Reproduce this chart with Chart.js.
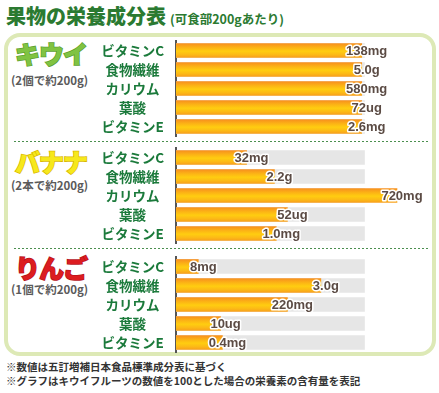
<!DOCTYPE html>
<html>
<head>
<meta charset="utf-8">
<script src="https://cdn.jsdelivr.net/npm/chart.js@4"></script>
<style>
body { margin:0; width:439px; height:393px; background:#fff; position:relative; overflow:hidden;
       font-family:"Noto Sans CJK JP", sans-serif; }
.abs { position:absolute; white-space:nowrap; }
#title { left:6px; top:4px; font-size:20px; line-height:24px; font-weight:900; color:#2b7a31; }
#title span { font-size:12.5px; font-weight:700; margin-left:4px; }
#box { left:4px; top:33px; width:424px; height:315px; border:4px solid #dde9b6; border-radius:16px; }
.sep { left:14px; width:414px; height:1px;
       background:repeating-linear-gradient(90deg,#4b8f4f 0 2px,transparent 2px 4px); }
.fruit { font-size:25px; line-height:26px; font-weight:900; letter-spacing:-1px; paint-order:stroke fill; }
.sub { font-size:11.5px; line-height:14px; font-weight:700; color:#5a5a5a; }
.note { left:6px; font-size:10.5px; line-height:14px; font-weight:700; color:#333; }
canvas { position:absolute; left:0; }
</style>
</head>
<body>
<div id="title" class="abs">果物の栄養成分表<span>(可食部200gあたり)</span></div>
<div id="box" class="abs"></div>
<div class="abs sep" style="top:141px"></div>
<div class="abs sep" style="top:248px"></div>

<div class="abs fruit" style="left:15px;top:40px;color:#80c342;-webkit-text-stroke:1.5px #5c9f30">キウイ</div>
<div class="abs sub" style="left:11px;top:73px">(2個で約200g)</div>
<div class="abs fruit" style="left:15px;top:148px;color:#f6e81c;-webkit-text-stroke:1.5px #d9b800">バナナ</div>
<div class="abs sub" style="left:11px;top:178px">(2本で約200g)</div>
<div class="abs fruit" style="left:15px;top:254px;color:#dc1c20;-webkit-text-stroke:1.5px #b5121a">りんご</div>
<div class="abs sub" style="left:11px;top:282px">(1個で約200g)</div>

<canvas id="kiwiChart" width="439" height="105" style="top:36px"></canvas>
<canvas id="bananaChart" width="439" height="105" style="top:143px"></canvas>
<canvas id="appleChart" width="439" height="105" style="top:252px"></canvas>

<div class="abs note" style="top:360px">※数値は五訂増補日本食品標準成分表に基づく</div>
<div class="abs note" style="top:374px">※グラフはキウイフルーツの数値を100とした場合の栄養素の含有量を表記</div>

<script>
// ---------- Data ----------
const nutrients = ["ビタミンC", "食物繊維", "カリウム", "葉酸", "ビタミンE"];

// kiwi = 100
const kiwiValues   = [100, 100, 100, 100, 100];
const bananaValues = [38, 53, 119, 60, 54];
const appleValues  = [12, 78, 60, 24, 25];

const kiwiLabels   = ["138mg", "5.0g", "580mg", "72ug", "2.6mg"];
const bananaLabels = ["32mg", "2.2g", "720mg", "52ug", "1.0mg"];
const appleLabels  = ["8mg", "3.0g", "220mg", "10ug", "0.4mg"];

// gray track behind each bar
const trackValues  = [101.5, 101.5, 101.5, 101.5, 101.5];

// ---------- Helpers ----------
function barGradient(c) {
    const chart = c.chart;
    if (!chart.chartArea || !chart.scales.y) return "#fbb616";
    const y = chart.scales.y.getPixelForValue(c.dataIndex);
    const g = chart.ctx.createLinearGradient(0, y - 7, 0, y + 7);
    g.addColorStop(0, "#f7901e");
    g.addColorStop(0.3, "#fcb415");
    g.addColorStop(0.55, "#ffcd10");
    g.addColorStop(0.8, "#fcb916");
    g.addColorStop(1, "#f8a01c");
    return g;
}

const valueLabels = {
    id: "valueLabels",
    afterDatasetsDraw(chart, args, opts) {
        const ctx = chart.ctx;
        const meta = chart.getDatasetMeta(0);
        ctx.save();
        ctx.font = 'bold 13px "Liberation Sans", sans-serif';
        ctx.textAlign = "center";
        ctx.textBaseline = "middle";
        ctx.lineJoin = "round";
        meta.data.forEach((bar, i) => {
            const x = bar.x + 5, y = bar.y + 1;
            ctx.lineWidth = 3;
            ctx.strokeStyle = "#fff";
            ctx.strokeText(opts.texts[i], x, y);
            ctx.fillStyle = "#5b4b44";
            ctx.fillText(opts.texts[i], x, y);
        });
        ctx.restore();
    }
};

function makeChart(id, values, texts) {
    return new Chart(document.getElementById(id), {
        type: "bar",
        data: {
            labels: nutrients,
            datasets: [
                { data: values, backgroundColor: barGradient, order: 1 },
                { data: trackValues, backgroundColor: "#e6e6e6", order: 2 }
            ]
        },
        options: {
            indexAxis: "y",
            responsive: false,
            animation: false,
            events: [],
            layout: { padding: { top: 5, bottom: 5, left: 0, right: 3 } },
            datasets: { bar: { grouped: false, barThickness: 14, borderWidth: 0 } },
            plugins: {
                legend: { display: false },
                tooltip: { enabled: false },
                valueLabels: { texts: texts }
            },
            scales: {
                x: { display: false, min: 0, max: 140 },
                y: {
                    grid: { display: false, drawTicks: false },
                    border: { display: true, color: "#555", width: 2 },
                    ticks: {
                        color: "#1b7a3b",
                        padding: 12,
                        autoSkip: false,
                        crossAlign: "center",
                        font: { family: '"Noto Sans CJK JP", sans-serif', size: 13.5, weight: "bold" }
                    },
                    afterFit: s => { s.width = 176; s.paddingTop = 0; s.paddingBottom = 0; }
                }
            }
        },
        plugins: [valueLabels]
    });
}

// ---------- Main ----------
makeChart("kiwiChart", kiwiValues, kiwiLabels);
makeChart("bananaChart", bananaValues, bananaLabels);
makeChart("appleChart", appleValues, appleLabels);
</script>
</body>
</html>
